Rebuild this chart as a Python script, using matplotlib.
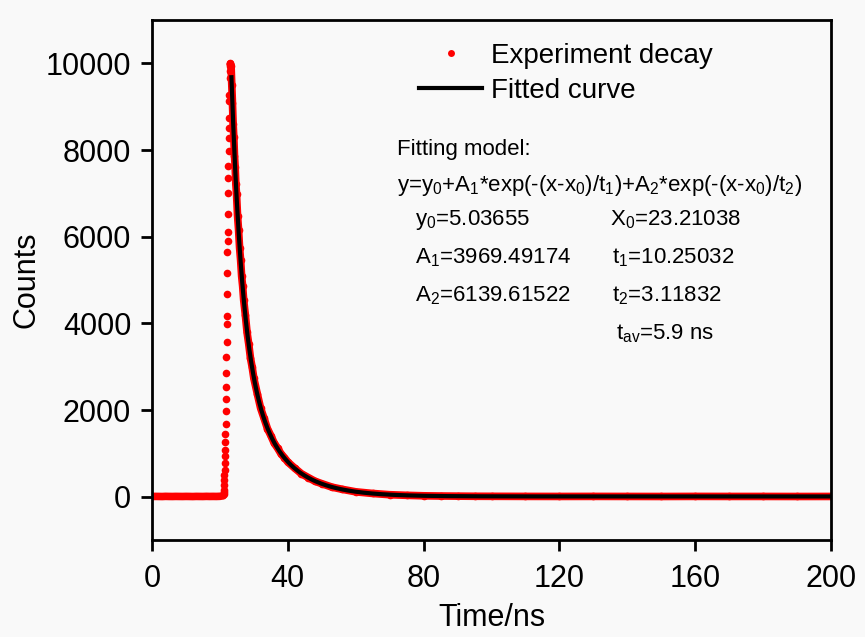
import numpy as np
import matplotlib
matplotlib.use("Agg")
import matplotlib.pyplot as plt
from matplotlib.lines import Line2D

plt.rcParams['font.family'] = ['Liberation Sans', 'DejaVu Sans']
plt.rcParams['mathtext.fontset'] = 'custom'
plt.rcParams['mathtext.rm'] = 'Liberation Sans'
plt.rcParams['mathtext.it'] = 'Liberation Sans'
plt.rcParams['mathtext.default'] = 'regular'

# ---------------- data ----------------
# baseline before the excitation pulse
baseline_t = [0, 1, 2, 3, 4, 5, 6, 7, 8, 9, 10, 11, 12, 13, 14, 15, 16, 17, 18, 19, 20, 21]
baseline_counts = [4, 6, 5, 3, 7, 5, 4, 6, 5, 4, 6, 5, 3, 6, 5, 4, 7, 5, 6, 5, 8, 20]

# rising edge (individual channels)
rise_t_start, rise_t_end = 21.1, 23.05
rise_counts = [60, 100, 161, 276, 391, 506, 621, 774, 927, 1081, 1272, 1448, 1678, 1985,
               2245, 2536, 2843, 3226, 3571, 3993, 4161, 4682, 5157, 5639, 5907, 6099,
               6521, 7019, 7364, 7632, 7977, 8283, 8513, 8743, 9127, 9280, 9663, 9817,
               9950, 9990, 10010]

# measured decay after the peak
decay_t = [23.1, 23.3, 23.5, 23.7, 23.9, 24.1, 24.3, 24.5, 24.7, 24.9, 25.2, 25.5, 25.8,
           26.1, 26.4, 26.7, 27.0, 27.5, 28.0, 28.5, 29.0, 29.5, 30, 31, 32, 33, 34, 35,
           36, 37, 38, 39, 40, 42, 44, 46, 48, 50, 53, 56, 60, 65, 70, 75, 80, 85, 90,
           95, 100, 110, 120, 130, 140, 150, 160, 170, 180, 190, 200]
decay_counts = [9990, 9930, 9500, 9080, 8600, 8300, 7870, 7600, 7210, 6980, 6480, 6160,
                5740, 5460, 5090, 4860, 4540, 4190, 3790, 3520, 3200, 2990, 2730, 2380,
                2040, 1810, 1570, 1410, 1235, 1120, 990, 900, 800, 660, 530, 442, 356,
                300, 220, 170, 112, 74, 45, 31, 20, 15, 12, 9, 8, 6, 5, 6, 5, 4, 6, 5, 5,
                4, 5]

# fitted bi-exponential model (parameters as printed on the chart)
y0, x0 = 5.03655, 23.21038
A1, t1 = 3969.49174, 10.25032
A2, t2 = 6139.61522, 3.11832
fit_t_start, fit_t_end = 23.4, 200

x_ticks = [0, 40, 80, 120, 160, 200]
y_ticks = [0, 2000, 4000, 6000, 8000, 10000]

# ---------------- figure ----------------
W, H = 865, 637
fig = plt.figure(figsize=(W / 100, H / 100), dpi=100)
bg = '#f9f9f9'
fig.patch.set_facecolor(bg)
ax = fig.add_axes([152 / W, 1 - 540 / H, (831 - 152) / W, (540 - 20) / H])
ax.set_facecolor(bg)

red = '#ff0000'
rise_t = np.linspace(rise_t_start, rise_t_end, len(rise_counts))

# continuous bands (dense channels) for baseline and decay
ax.plot(baseline_t, baseline_counts, color=red, lw=5.5, solid_capstyle='round', zorder=2)
ax.plot(decay_t, decay_counts, color=red, lw=5.5, solid_capstyle='round', zorder=2)
# individual points
ax.plot(rise_t, rise_counts, 'o', color=red, ms=5.5, mec='none', zorder=2)
ax.plot(decay_t, decay_counts, 'o', color=red, ms=5.5, mec='none', zorder=2)

fit_t = np.linspace(fit_t_start, fit_t_end, 2000)
fit_y = y0 + A1 * np.exp(-(fit_t - x0) / t1) + A2 * np.exp(-(fit_t - x0) / t2)
ax.plot(fit_t, fit_y, color='black', lw=3, zorder=3)

ax.set_xlim(0, 200)
ax.set_ylim(-1000, 11000)
ax.set_xticks(x_ticks)
ax.set_yticks(y_ticks)
ax.tick_params(axis='both', direction='out', length=8, width=2, labelsize=22)
ax.tick_params(axis='x', pad=9)
ax.tick_params(axis='y', pad=7)
for s in ax.spines.values():
    s.set_linewidth(2)
ax.set_xlabel('Time/ns', fontsize=22, labelpad=7)
ax.set_ylabel('Counts', fontsize=22, labelpad=3)

# legend
handles = [Line2D([], [], ls='none', marker='o', color=red, ms=5, mec='none'),
           Line2D([], [], color='black', lw=3)]
leg = fig.legend(handles, ['Experiment decay', 'Fitted curve'], loc='upper left',
                 bbox_to_anchor=(419 / W, 1 - 43 / H), frameon=False, fontsize=20,
                 handlelength=2.27, handletextpad=0.32, labelspacing=0.33,
                 borderpad=0, borderaxespad=0, numpoints=1)

# fitting-model annotation
fs = 16
def ftxt(x, y, s):
    fig.text(x / W, 1 - y / H, s, fontsize=fs, ha='left', va='center')

ftxt(397, 149, 'Fitting model:')
ftxt(397, 185, r'y=y$_0$+A$_1$*exp(-(x-x$_0$)/t$_1$)+A$_2$*exp(-(x-x$_0$)/t$_2$)')
ftxt(415, 220, r'y$_0$=5.03655')
ftxt(610, 220, r'X$_0$=23.21038')
ftxt(415, 258, r'A$_1$=3969.49174')
ftxt(612, 258, r't$_1$=10.25032')
ftxt(415, 296, r'A$_2$=6139.61522')
ftxt(612, 296, r't$_2$=3.11832')
ftxt(616, 334, r't$_{av}$=5.9 ns')

fig.savefig('out.png', dpi=100, facecolor=bg)
